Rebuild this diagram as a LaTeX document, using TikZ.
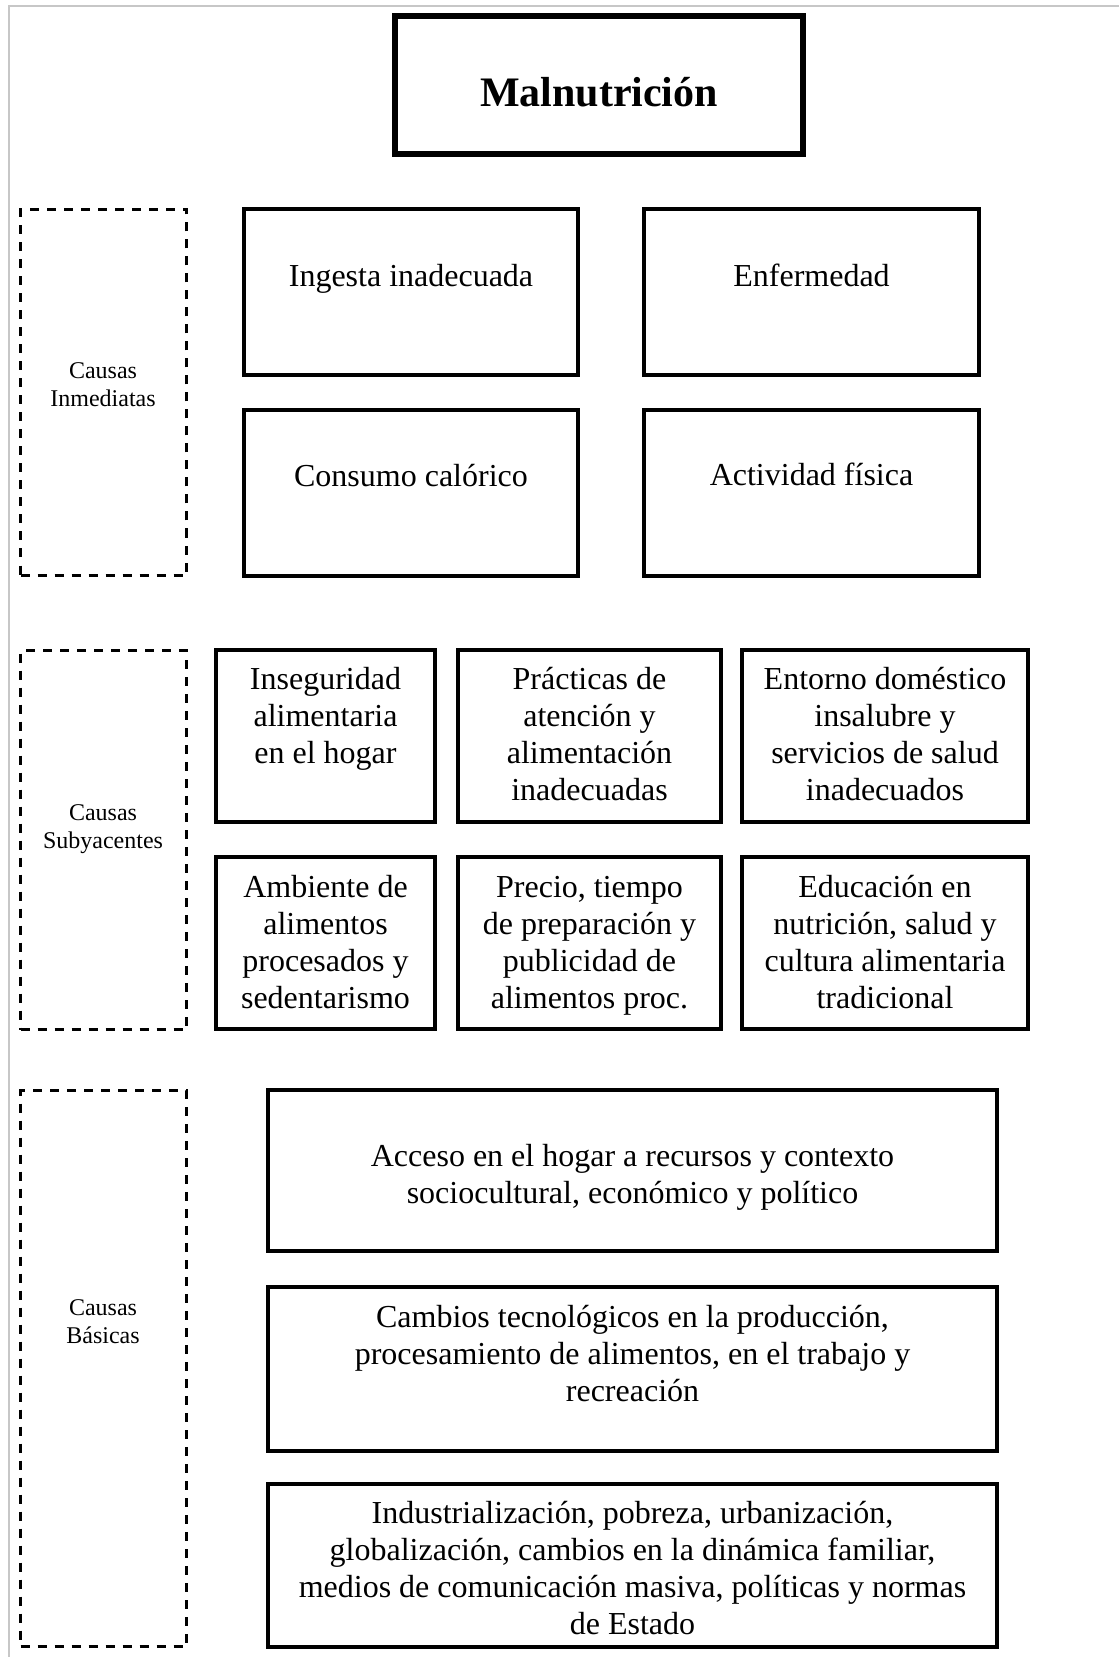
\documentclass[tikz,border=0pt]{standalone}
\usepackage{fontspec}
\setmainfont{Liberation Serif}
\usetikzlibrary{fit}
\tikzset{
  boxframe/.style={draw=black, line width=2pt, inner sep=0pt, outer sep=0pt, fill=none},
  titleframe/.style={draw=black, line width=3.25pt, inner sep=0pt, outer sep=0pt},
  dashframe/.style={draw=black, line width=1.5pt, dash pattern=on 4.5pt off 4pt, inner sep=0pt, outer sep=0pt},
  boxtext/.style={anchor=base, align=center, inner sep=0pt, font=\fontsize{16pt}{18.5pt}\selectfont},
  sidetext/.style={anchor=base, align=center, inner sep=0pt, font=\fontsize{12pt}{14pt}\selectfont},
  titletext/.style={anchor=base, inner sep=0pt, font=\fontsize{21pt}{25pt}\selectfont\bfseries},
  pageframe/.style={draw=black!22, line width=1pt}
}
\begin{document}
\begin{tikzpicture}[x=0.5pt, y=-0.5pt]
\useasboundingbox (0,0) rectangle (1119,1657);
\fill[white] (0,0) rectangle (1119,1657);
% page frame
\coordinate (pfA) at (1119,6);
\coordinate (pfB) at (9,6);
\coordinate (pfC) at (9,1657);
\draw[pageframe] (pfA) -- (pfB) -- (pfC);

% title
\node[titleframe, fit={(395,16) (803,154)}] (title) {};
\node[titletext] (titlet) at (599,107) {Malnutrición};

% dashed side frames (text anchors at last line baseline)
\node[dashframe, fit={(20.5,209.5) (186.5,575.5)}] (sideA) {};
\node[dashframe, fit={(20.5,650.5) (186.5,1029.5)}] (sideB) {};
\node[dashframe, fit={(20.5,1090.5) (186.5,1646.5)}] (sideC) {};
\node[sidetext] (sideAt) at (103,407) {Causas\\Inmediatas};
\node[sidetext] (sideBt) at (103,848) {Causas\\Subyacentes};
\node[sidetext] (sideCt) at (103,1343) {Causas\\Básicas};

% immediate causes
\node[boxframe, fit={(244,209) (578,375)}] (ingesta) {};
\node[boxframe, fit={(644,209) (979,375)}] (enf) {};
\node[boxframe, fit={(244,410) (578,576)}] (consumo) {};
\node[boxframe, fit={(644,410) (979,576)}] (activ) {};
\node[boxtext] (ingestat) at (411,287) {Ingesta inadecuada};
\node[boxtext] (enft) at (811.5,287) {Enfermedad};
\node[boxtext] (consumot) at (411,487) {Consumo calórico};
\node[boxtext] (activt) at (811.5,486) {Actividad física};

% underlying causes
\node[boxframe, fit={(216,650) (435,822)}] (inseg) {};
\node[boxframe, fit={(458,650) (721,822)}] (pract) {};
\node[boxframe, fit={(742,650) (1028,822)}] (entorno) {};
\node[boxframe, fit={(216,857) (435,1029)}] (ambiente) {};
\node[boxframe, fit={(458,857) (721,1029)}] (precio) {};
\node[boxframe, fit={(742,857) (1028,1029)}] (educ) {};
\node[boxtext] (insegt) at (325.5,763) {Inseguridad\\alimentaria\\en el hogar};
\node[boxtext] (practt) at (589.5,800) {Prácticas de\\atención y\\alimentación\\inadecuadas};
\node[boxtext] (entornot) at (885,800) {Entorno doméstico\\insalubre y\\servicios de salud\\inadecuados};
\node[boxtext] (ambientet) at (325.5,1008) {Ambiente de\\alimentos\\procesados y\\sedentarismo};
\node[boxtext] (preciot) at (589.5,1008) {Precio, tiempo\\de preparación y\\publicidad de\\alimentos proc.};
\node[boxtext] (educt) at (885,1008) {Educación en\\nutrición, salud y\\cultura alimentaria\\tradicional};

% basic causes
\node[boxframe, fit={(268,1090) (997,1251)}] (acceso) {};
\node[boxframe, fit={(268,1287) (997,1451)}] (cambios) {};
\node[boxframe, fit={(268,1484) (997,1647)}] (indus) {};
\node[boxtext] (accesot) at (632.5,1203) {Acceso en el hogar a recursos y contexto\\sociocultural, económico y político};
\node[boxtext] (cambiost) at (632.5,1401) {Cambios tecnológicos en la producción,\\procesamiento de alimentos, en el trabajo y\\recreación};
\node[boxtext] (indust) at (632.5,1634) {Industrialización, pobreza, urbanización,\\globalización, cambios en la dinámica familiar,\\medios de comunicación masiva, políticas y normas\\de Estado};
\end{tikzpicture}
\end{document}
